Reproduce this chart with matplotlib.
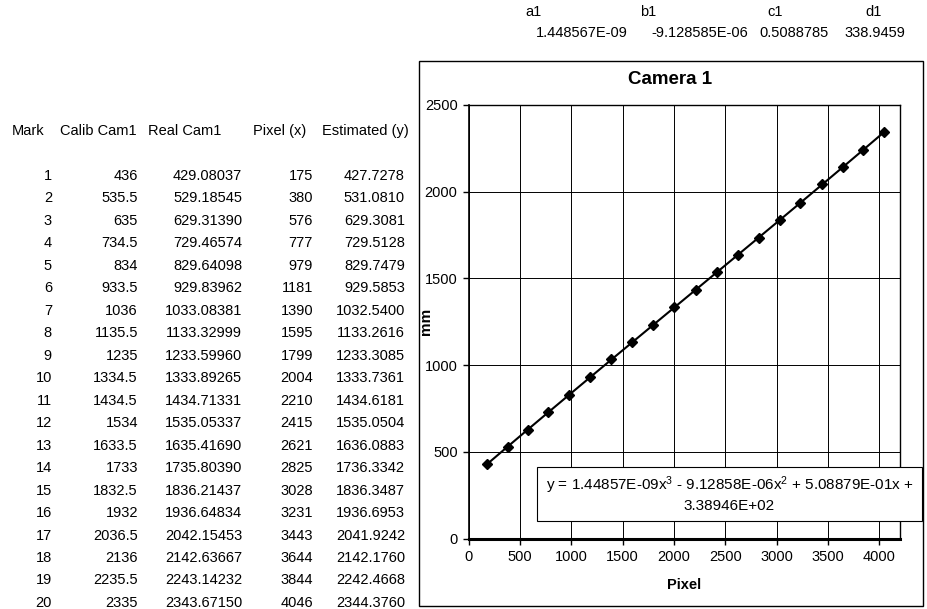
import matplotlib
matplotlib.use("Agg")
import matplotlib.pyplot as plt
from matplotlib.patches import Rectangle
import numpy as np

plt.rcParams['font.family'] = ['Liberation Sans', 'DejaVu Sans']
plt.rcParams['mathtext.fontset'] = 'custom'
plt.rcParams['mathtext.rm'] = 'Liberation Sans'
plt.rcParams['mathtext.it'] = 'Liberation Sans'
plt.rcParams['mathtext.default'] = 'regular'

# ---------------- data ----------------
marks = list(range(1, 21))
calib_cam1 = [436, 535.5, 635, 734.5, 834, 933.5, 1036, 1135.5, 1235, 1334.5,
              1434.5, 1534, 1633.5, 1733, 1832.5, 1932, 2036.5, 2136, 2235.5, 2335]
real_cam1 = [429.08037, 529.18545, 629.31390, 729.46574, 829.64098, 929.83962,
             1033.08381, 1133.32999, 1233.59960, 1333.89265, 1434.71331, 1535.05337,
             1635.41690, 1735.80390, 1836.21437, 1936.64834, 2042.15453, 2142.63667,
             2243.14232, 2343.67150]
pixel_x = [175, 380, 576, 777, 979, 1181, 1390, 1595, 1799, 2004,
           2210, 2415, 2621, 2825, 3028, 3231, 3443, 3644, 3844, 4046]
estimated_y = [427.7278, 531.0810, 629.3081, 729.5128, 829.7479, 929.5853,
               1032.5400, 1133.2616, 1233.3085, 1333.7361, 1434.6181, 1535.0504,
               1636.0883, 1736.3342, 1836.3487, 1936.6953, 2041.9242, 2142.1760,
               2242.4668, 2344.3760]
coef_names = ["a1", "b1", "c1", "d1"]
coef_values = ["1.448567E-09", "-9.128585E-06", "0.5088785", "338.9459"]
headers = ["Mark", "Calib Cam1", "Real Cam1", "Pixel (x)", "Estimated (y)"]
x_ticks = [0, 500, 1000, 1500, 2000, 2500, 3000, 3500, 4000]
y_ticks = [0, 500, 1000, 1500, 2000, 2500]
equation = "y = 1.44857E-09x$^{3}$ - 9.12858E-06x$^{2}$ + 5.08879E-01x +\n3.38946E+02"

W, H = 927, 609
fig = plt.figure(figsize=(W / 100, H / 100), dpi=100)


def fx(px):
    return px / W


def fy(py):
    return 1 - py / H


FS = 10.5

# ---------------- table ----------------
header_x = [12, 60, 148, 253, 322]
for hx, h in zip(header_x, headers):
    fig.text(fx(hx), fy(131), h, ha='left', va='center', fontsize=FS)

col_right = [52, 138, 242, 313, 405]
row0, dy = 176, 22.47
for i in range(len(marks)):
    y = fy(row0 + i * dy)
    vals = [str(marks[i]), f"{calib_cam1[i]:g}", f"{real_cam1[i]:.5f}",
            str(pixel_x[i]), f"{estimated_y[i]:.4f}"]
    for cx, v in zip(col_right, vals):
        fig.text(fx(cx), y, v, ha='right', va='center', fontsize=FS)

# coefficient block
name_x = [525, 640, 767, 865]
for nx, n in zip(name_x, coef_names):
    fig.text(fx(nx), fy(12), n, ha='left', va='center', fontsize=FS)
val_right = [628, 748, 829, 905]
for vx, v in zip(val_right, coef_values):
    fig.text(fx(vx), fy(33), v, ha='right', va='center', fontsize=FS)

# ---------------- chart ----------------
fig.patches.append(Rectangle((fx(419), fy(606)), fx(923) - fx(419), fy(61) - fy(606),
                             transform=fig.transFigure, fill=False,
                             edgecolor='black', linewidth=1.0, zorder=0))

ax = fig.add_axes([fx(468.7), fy(538.7), fx(900) - fx(468.7), fy(105) - fy(538.7)])
ax.set_xlim(0, 4200)
ax.set_ylim(0, 2500)
ax.set_xticks(x_ticks)
ax.set_yticks(y_ticks)
ax.grid(True, color='black', linewidth=0.7)
ax.set_axisbelow(True)
ax.tick_params(direction='out', length=4, width=1, labelsize=FS, pad=4, colors='black')
for side in ['top', 'right']:
    ax.spines[side].set_linewidth(1.0)
ax.spines['bottom'].set_linewidth(2.2)
ax.spines['left'].set_linewidth(1.2)

ax.plot(pixel_x, estimated_y, color='black', linewidth=1.5, zorder=3)
ax.plot(pixel_x, real_cam1, linestyle='none', marker='D', markersize=5.5,
        color='black', zorder=4)

fig.text(fx(670), fy(80), "Camera 1", ha='center', va='center',
         fontsize=13.5, fontweight='bold')
ax.set_xlabel("Pixel", fontsize=FS, fontweight='bold', labelpad=10)
ax.set_ylabel("mm", fontsize=FS + 0.5, fontweight='bold')
ax.yaxis.set_label_coords(-0.083, 0.50)

# equation box (extends past plot area, like Excel)
bx0, bx1, by0, by1 = 537, 922, 467, 521
fig.patches.append(Rectangle((fx(bx0), fy(by1)), fx(bx1) - fx(bx0), fy(by0) - fy(by1),
                             transform=fig.transFigure, facecolor='white',
                             edgecolor='black', linewidth=0.8, zorder=5))
fig.text(fx((bx0 + bx1) / 2), fy((by0 + by1) / 2), equation, ha='center', va='center',
         fontsize=11, linespacing=1.25, zorder=6)

fig.savefig("out.png", dpi=100)
